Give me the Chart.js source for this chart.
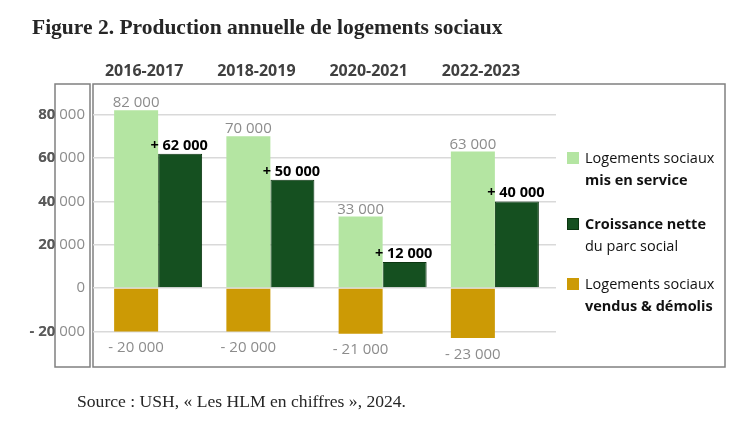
<!DOCTYPE html>
<html lang="fr">
<head>
<meta charset="utf-8">
<script src="https://cdn.jsdelivr.net/npm/chart.js@4.4.1/dist/chart.umd.min.js"></script>
<style>
  html, body { margin: 0; padding: 0; background: #fff; }
  #wrap { position: relative; width: 748px; height: 428px; overflow: hidden; }
  #chart { position: absolute; left: 0; top: 0; }
  .title { position: absolute; left: 32px; top: 15px; font: bold 21.5px "Liberation Serif", serif; color: #262626; white-space: nowrap; }
  .source { position: absolute; left: 77px; top: 391px; font: 17.6px "Liberation Serif", serif; color: #262626; white-space: nowrap; }
  #legend { position: absolute; left: 567px; top: 0; font: 14.5px "Open Sans", sans-serif; color: #111; }
  #legend .item { position: absolute; left: 0; width: 170px; line-height: 22px; }
  #legend .sw { position: absolute; left: 0; top: 5px; width: 12px; height: 12px; }
  #legend .txt { margin-left: 18px; white-space: nowrap; }
  #legend b { font-weight: bold; }
</style>
</head>
<body>
<div id="wrap">
  <canvas id="chart" width="748" height="428"></canvas>
  <div class="title">Figure 2. Production annuelle de logements sociaux</div>
  <div id="legend"></div>
  <div class="source">Source : USH, « Les HLM en chiffres », 2024.</div>
</div>
<script>
// données
const periodes = ['2016-2017', '2018-2019', '2020-2021', '2022-2023'];
const misEnService = [82000, 70000, 33000, 63000];
const croissanceNette = [62000, 50000, 12000, 40000];
const vendusDemolis = [-20000, -20000, -21000, -23000];
const yTicks = [-20000, 0, 20000, 40000, 60000, 80000];

// légende : [texte, gras ?]
const legendLines = [
    [['Logements sociaux', false], ['mis en service', true]],
    [['Croissance nette', true], ['du parc social', false]],
    [['Logements sociaux', false], ['vendus & démolis', true]]
];
const colors = ['#b4e5a2', '#155020', '#cc9a05'];
const legendTops = [147, 213, 273];

const fmt = (n) => {
    const s = Math.abs(n).toString().replace(/\B(?=(\d{3})+(?!\d))/g, ' ');
    return (n < 0 ? '- ' : '') + s;
};

// légende HTML
const legendEl = document.getElementById('legend');
legendLines.forEach((lines, i) => {
    const item = document.createElement('div');
    item.className = 'item';
    item.style.top = legendTops[i] + 'px';
    const sw = document.createElement('div');
    sw.className = 'sw';
    sw.style.background = colors[i];
    if (i === 1) sw.style.border = '1px solid #0b3510', sw.style.width = '10px', sw.style.height = '10px';
    item.appendChild(sw);
    const txt = document.createElement('div');
    txt.className = 'txt';
    txt.innerHTML = lines.map(([t, b]) => b ? '<b>' + t + '</b>' : t).join('<br>');
    item.appendChild(txt);
    legendEl.appendChild(item);
});

// cadres + libellés
const framePlugin = {
    id: 'frames',
    beforeDraw(chart) {
        const ctx = chart.ctx;
        ctx.save();
        ctx.strokeStyle = '#808080';
        ctx.lineWidth = 1.5;
        ctx.strokeRect(55, 84, 35, 283);
        ctx.strokeRect(93, 84, 632, 283);
        ctx.restore();
    },
    afterDraw(chart) {
        // chiffres gras superposés sur l'axe y
        const ctx = chart.ctx;
        const y = chart.scales.y;
        ctx.save();
        ctx.textBaseline = 'middle';
        ctx.textAlign = 'right';
        y.ticks.forEach(t => {
            const lbl = fmt(t.value);
            if (t.value === 0) return;
            const rest = ' 000';
            const prefix = lbl.slice(0, lbl.length - rest.length);
            ctx.font = '15px "Open Sans"';
            const w = ctx.measureText(rest).width;
            ctx.font = 'bold 15px "Open Sans"';
            ctx.fillStyle = '#595959';
            ctx.fillText(prefix, 85 - w, y.getPixelForValue(t.value));
        });
        ctx.restore();
    },
    afterDatasetsDraw(chart) {
        const ctx = chart.ctx;
        ctx.save();
        ctx.textAlign = 'center';
        chart.data.datasets.forEach((ds, di) => {
            const meta = chart.getDatasetMeta(di);
            meta.data.forEach((el, i) => {
                const v = ds.data[i];
                if (di === 0) {
                    ctx.font = '15px "Open Sans"';
                    ctx.fillStyle = '#8c8c8c';
                    ctx.textBaseline = 'alphabetic';
                    ctx.fillText(fmt(v), el.x, el.y - 3);
                } else if (di === 1) {
                    ctx.font = 'bold 14.5px "Open Sans"';
                    ctx.fillStyle = '#000';
                    ctx.textBaseline = 'alphabetic';
                    ctx.fillText('+ ' + fmt(v), el.x - 1, el.y - 4);
                } else {
                    ctx.font = '15px "Open Sans"';
                    ctx.fillStyle = '#8c8c8c';
                    ctx.textBaseline = 'top';
                    ctx.fillText(fmt(v), el.x, el.y + 9);
                }
            });
        });
        ctx.restore();
    }
};

new Chart(document.getElementById('chart'), {
    type: 'bar',
    data: {
        labels: periodes,
        datasets: [
            { label: 'Logements sociaux mis en service', data: misEnService, backgroundColor: colors[0], stack: 'a' },
            { label: 'Croissance nette du parc social', data: croissanceNette, backgroundColor: colors[1], borderColor: '#0b3510', borderWidth: 1, stack: 'b' },
            { label: 'Logements sociaux vendus & démolis', data: vendusDemolis, backgroundColor: colors[2], stack: 'a' }
        ]
    },
    options: {
        responsive: false,
        animation: false,
        layout: { padding: { top: 55, bottom: 64, left: 0, right: 192 } },
        datasets: { bar: { categoryPercentage: 0.784, barPercentage: 1 } },
        plugins: { legend: { display: false }, tooltip: { enabled: false } },
        scales: {
            x: {
                position: 'top',
                stacked: true,
                grid: { display: false },
                border: { display: false },
                afterFit: (s) => { s.height = 38; },
                ticks: {
                    color: '#404040',
                    font: { family: 'Open Sans', size: 16, weight: 'bold' },
                    labelOffset: -14,
                    padding: 4,
                    maxRotation: 0
                }
            },
            y: {
                stacked: true,
                min: -35000,
                max: 90000,
                afterFit: (s) => { s.width = 102; },
                afterBuildTicks: (s) => { s.ticks = yTicks.map(v => ({ value: v })); },
                border: { display: false },
                grid: { color: '#d9d9d9', lineWidth: 1.5, tickLength: 9 },
                ticks: {
                    color: '#8c8c8c',
                    padding: 8,
                    font: { family: 'Open Sans', size: 15 },
                    callback: (v) => fmt(v)
                }
            },
            y2: {
                position: 'right',
                min: -35000,
                max: 90000,
                afterFit: (s) => { s.width = 5; },
                afterBuildTicks: (s) => { s.ticks = yTicks.map(v => ({ value: v })); },
                border: { display: false },
                grid: { color: '#d9d9d9', lineWidth: 1.5, tickLength: 5, drawOnChartArea: false },
                ticks: { display: false }
            }
        }
    },
    plugins: [framePlugin]
});
</script>
</body>
</html>
